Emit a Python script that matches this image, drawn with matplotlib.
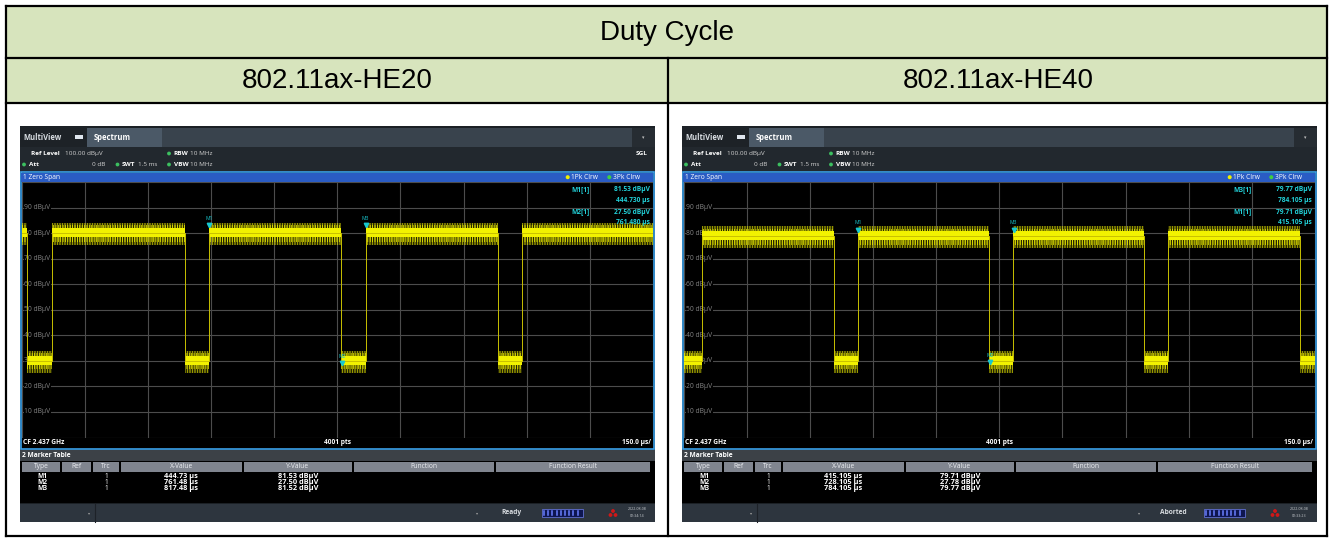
import matplotlib
matplotlib.use('Agg')
import matplotlib.pyplot as plt
from matplotlib.patches import Rectangle, Circle

W, H = 1333, 538

title = 'Duty Cycle'
col_titles = ['802.11ax-HE20', '802.11ax-HE40']

sweep_us = 1500
db_ticks = [10, 20, 30, 40, 50, 60, 70, 80, 90]

# trace edges in us (on/off toggles), levels in dBuV
he20_edges = [14, 72, 388, 444.7, 759, 817.5, 1131, 1190]
he20_start_on = True
he20_on, he20_off = 80.0, 30.0
he40_edges = [44.5, 357.6, 414.7, 726.3, 783.4, 1095, 1152, 1465.5]
he40_start_on = False
he40_on, he40_off = 78.8, 30.0

marker_names = ['M1', 'M2', 'M3']
he20_mx = [444.73, 761.48, 817.48]
he20_my = [81.53, 27.50, 81.52]
he40_mx = [415.105, 728.105, 784.105]
he40_my = [79.71, 27.78, 79.77]

screens = [
    dict(ox=0, edges=he20_edges, start=he20_start_on, on=he20_on, off=he20_off,
         mx=he20_mx, my=he20_my, xfmt='{:.2f} μs', info=[0, 1], sgl=True,
         status='Ready', date='2022-08-08', time='02:34:14'),
    dict(ox=662, edges=he40_edges, start=he40_start_on, on=he40_on, off=he40_off,
         mx=he40_mx, my=he40_my, xfmt='{:.3f} μs', info=[2, 0], sgl=False,
         status='Aborted', date='2022-08-08', time='02:33:23'),
]

plt.rcParams['font.family'] = ['Open Sans', 'DejaVu Sans']

fig = plt.figure(figsize=(W / 100, H / 100), dpi=100)
fig.patch.set_facecolor('white')
base = fig.add_axes([0, 0, 1, 1], zorder=0)
over = fig.add_axes([0, 0, 1, 1], zorder=5)
for a in (base, over):
    a.set_xlim(0, W)
    a.set_ylim(H, 0)
    a.axis('off')
over.patch.set_alpha(0)


def box(x0, y0, x1, y1, fc, ec='none', lw=0, ax=base, z=1):
    ax.add_patch(Rectangle((x0, y0), x1 - x0, y1 - y0, facecolor=fc,
                           edgecolor=ec, linewidth=lw, zorder=z))


def txt(x, y, s, ax=base, size=5, color='white', ha='left', bold=False, **kw):
    ax.text(x, y, s, fontsize=size, color=color, ha=ha, va='center',
            fontweight='bold' if bold else 'normal', zorder=4, **kw)


def segments(edges, start_on, on, off):
    pts = [0] + edges + [sweep_us]
    segs = []
    state = start_on
    for a, b in zip(pts[:-1], pts[1:]):
        segs.append((a, b, on if state else off))
        state = not state
    return segs


# ---- table -----
box(6, 6, 1327, 103, '#d7e4bd')
for y in (6, 58, 103, 536):
    base.plot([6, 1327], [y, y], color='black', lw=1.6, zorder=3)
for x in (6, 1327):
    base.plot([x, x], [6, 536], color='black', lw=1.6, zorder=3)
base.plot([668, 668], [58, 536], color='black', lw=1.6, zorder=3)
base.text(666.5, 33, title, fontsize=20, ha='center', va='center',
          family='Liberation Sans')
base.text(337, 81, col_titles[0], fontsize=20, ha='center', va='center',
          family='Liberation Sans')
base.text(998, 81, col_titles[1], fontsize=20, ha='center', va='center',
          family='Liberation Sans')

plt.rcParams['hatch.linewidth'] = 0.5

for sc in screens:
    o = sc['ox']
    # window chrome
    box(o + 19.5, 126, o + 654.5, 522, '#1b2025')
    box(o + 19.5, 127, o + 86.5, 147, '#1d2227')
    box(o + 86.5, 128, o + 162, 147, '#4b5967')
    box(o + 162, 128, o + 632, 147, '#39434d')
    box(o + 632, 128, o + 654.5, 147, '#262c32')
    txt(o + 23, 137, 'MultiView', size=5.5, color='#d8dde2', bold=True)
    box(o + 74.5, 134.5, o + 78.5, 136.5, '#dfe6ee', z=2)
    box(o + 79, 134.5, o + 83, 136.5, '#dfe6ee', z=2)
    box(o + 74.5, 137.2, o + 78.5, 139.2, '#dfe6ee', z=2)
    box(o + 79, 137.2, o + 83, 139.2, '#dfe6ee', z=2)
    txt(o + 94, 137, 'Spectrum', size=5.5, bold=True)
    txt(o + 643, 137.5, '▾', size=3.5, color='#c0c0c0', ha='center')

    box(o + 19.5, 147, o + 654.5, 172, '#22282e')
    txt(o + 31, 153.5, 'Ref Level', size=4.6, bold=True)
    txt(o + 65, 153.5, '100.00 dBμV', size=4.6, color='#d0d0d0')
    base.add_patch(Circle((o + 169, 153.5), 1.2, color='#3cc060', zorder=3))
    txt(o + 173.5, 153.5, 'RBW', size=4.6, bold=True)
    txt(o + 190, 153.5, '10 MHz', size=4.6, color='#d0d0d0')
    base.add_patch(Circle((o + 24, 164.5), 1.2, color='#3cc060', zorder=3))
    txt(o + 29, 164.5, 'Att', size=4.6, bold=True)
    txt(o + 92, 164.5, '0 dB', size=4.6, color='#d0d0d0')
    base.add_patch(Circle((o + 117.5, 164.5), 1.2, color='#3cc060', zorder=3))
    txt(o + 122, 164.5, 'SWT', size=4.6, bold=True)
    txt(o + 138, 164.5, '1.5 ms', size=4.6, color='#d0d0d0')
    base.add_patch(Circle((o + 169, 164.5), 1.2, color='#3cc060', zorder=3))
    txt(o + 173.5, 164.5, 'VBW', size=4.6, bold=True)
    txt(o + 190, 164.5, '10 MHz', size=4.6, color='#d0d0d0')
    if sc['sgl']:
        txt(o + 648, 153.5, 'SGL', size=4.6, bold=True, ha='right')

    box(o + 20.5, 172, o + 654, 449, 'black', ec='#3aa0e8', lw=1.2)
    box(o + 21.2, 172.6, o + 653.3, 182, '#2a5cc4')
    txt(o + 23, 177.2, '1 Zero Span', size=4.8)
    base.add_patch(Circle((o + 567.7, 177.2), 1.3, color='#f0f000', zorder=3))
    txt(o + 571, 177.2, '1Pk Clrw', size=4.8)
    base.add_patch(Circle((o + 609.3, 177.2), 1.3, color='#40d040', zorder=3))
    txt(o + 613, 177.2, '3Pk Clrw', size=4.8)

    txt(o + 23, 443, 'CF 2.437 GHz', size=4.8, bold=True)
    txt(o + 337, 443, '4001 pts', size=4.8, bold=True, ha='center')
    txt(o + 651, 443, '150.0 μs/', size=4.8, bold=True, ha='right')

    # marker table
    box(o + 19.5, 450, o + 654.5, 461, '#3c4147')
    txt(o + 22, 455.5, '2 Marker Table', size=4.8, bold=True)
    box(o + 19.5, 461, o + 654.5, 503, 'black')
    cols = [21, 61, 92, 120, 243, 353, 495, 651]
    heads = ['Type', 'Ref', 'Trc', 'X-Value', 'Y-Value', 'Function', 'Function Result']
    for c0, c1, hd in zip(cols[:-1], cols[1:], heads):
        box(o + c0 + 0.6, 461.8, o + c1 - 0.6, 472, '#80858f')
        txt(o + (c0 + c1) / 2, 467, hd, size=4.8, color='#eceef2', ha='center')
    for i, name in enumerate(marker_names):
        y = 476.6 + i * 6.2
        txt(o + 42, y, name, size=4.8, ha='center', bold=True)
        txt(o + 106, y, '1', size=4.8, ha='center')
        txt(o + 181, y, sc['xfmt'].format(sc['mx'][i]), size=5.3, ha='center', bold=True)
        txt(o + 298, y, '{:.2f} dBμV'.format(sc['my'][i]), size=5.3, ha='center', bold=True)

    # status bar
    box(o + 19.5, 504, o + 654.5, 522, '#2d353e')
    base.plot([o + 95, o + 95], [504, 522], color='#1d2228', lw=0.8, zorder=2)
    txt(o + 89, 513, '▾', size=3, color='#a0a0a0', ha='center')
    txt(o + 477, 513, '▾', size=3, color='#a0a0a0', ha='center')
    txt(o + 511, 513, sc['status'], size=4.8, color='#d8dce0', bold=True, ha='center')
    box(o + 541.5, 509, o + 582.5, 516.5, '#0e1650', ec='#6070d0', lw=0.6)
    for k in range(9):
        xb = o + 544 + k * 4.2
        base.plot([xb, xb], [510.5, 515], color='#6a80ff', lw=1.1, zorder=3)
    for dx, dy in ((0, -2), (-2.5, 2), (2.5, 2)):
        base.add_patch(Circle((o + 613 + dx, 513 + dy), 1.2, color='#d01818', zorder=3))
    txt(o + 637, 509.5, sc['date'], size=2.6, color='#c8ccd0', ha='center')
    txt(o + 637, 516, sc['time'], size=2.6, color='#c8ccd0', ha='center')

    # plot area
    x0, x1, y0, y1 = o + 21.5, o + 653, 182, 437.5
    ax = fig.add_axes([x0 / W, 1 - y1 / H, (x1 - x0) / W, (y1 - y0) / H], zorder=2)
    ax.set_facecolor('black')
    ax.set_xlim(0, sweep_us)
    ax.set_ylim(0, 100)
    ax.set_xticks(range(0, sweep_us + 1, 150))
    ax.set_yticks(range(0, 101, 10))
    ax.grid(True, color='#4c4c4c', lw=0.8)
    ax.tick_params(length=0, labelbottom=False, labelleft=False)
    for s in ax.spines.values():
        s.set_visible(False)
    for v in db_ticks:
        ax.text(6, v, f'{v} dBμV', fontsize=4.9, color='#858585', va='center',
                bbox=dict(facecolor='black', edgecolor='none', pad=0.3), zorder=2)

    segs = segments(sc['edges'], sc['start'], sc['on'], sc['off'])
    xs, ys = [], []
    for a, b, lv in segs:
        xs += [a, b]
        ys += [lv, lv]
        ax.add_patch(Rectangle((a, lv - 4.8), b - a, 8.8, facecolor='none',
                               edgecolor='#d8d800', hatch='||||||||||', lw=0, zorder=3))
        ax.add_patch(Rectangle((a, lv - 3.3), b - a, 6.3, facecolor='none',
                               edgecolor='#f4f400', hatch='|||||||', lw=0, zorder=3))
        ax.fill_between([a, b], lv - 1.6, lv + 2.0, color='#f2f200', lw=0, zorder=3)
    ax.plot(xs, ys, color='#c8c000', lw=0.7, zorder=3)

    for i, name in enumerate(marker_names):
        ax.plot(sc['mx'][i], sc['my'][i] + 1.6, marker='v', ms=3.2,
                color='#18c8d0', zorder=5)
        ax.text(sc['mx'][i], sc['my'][i] + 4.3, name, fontsize=3.6,
                color='#18c8d0', ha='center', va='center', zorder=5)

    # marker info in plot corner
    for j, idx in enumerate(sc['info']):
        yy = 189.5 + j * 22.5
        txt(o + 571.5, yy, marker_names[idx] + '[1]', ax=over, size=4.8,
            color='#22d0d8', bold=True)
        txt(o + 650, yy, '{:.2f} dBμV'.format(sc['my'][idx]), ax=over, size=4.8,
            color='#22d0d8', bold=True, ha='right')
        txt(o + 650, yy + 11, '{:.3f} μs'.format(sc['mx'][idx]), ax=over, size=4.8,
            color='#22d0d8', bold=True, ha='right')

fig.savefig('out.png', dpi=100, facecolor='white')
